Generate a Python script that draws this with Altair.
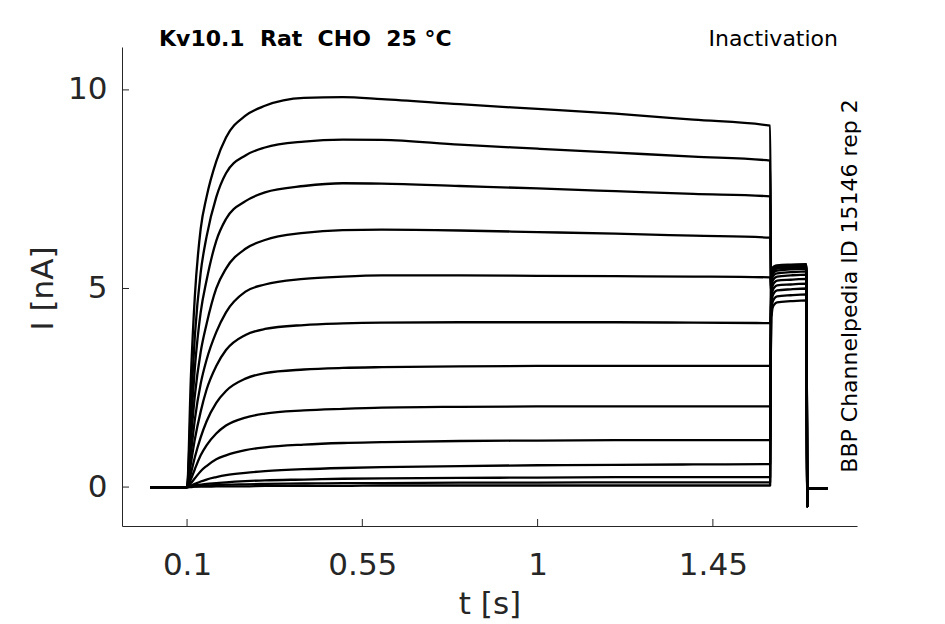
import altair as alt
import pandas as pd

# time grid (s)
T_STEP = [0.005, 0.1, 0.11, 0.12, 0.135, 0.15, 0.175, 0.2, 0.25, 0.3, 0.4, 0.5, 0.6, 0.8, 1.0, 1.2, 1.4, 1.597]
T_TAIL = [1.6, 1.603, 1.608, 1.615, 1.65, 1.69]
T_END = [1.6925, 1.694, 1.744]
I_END = [-0.5, -0.03, -0.03]

# current (nA) during the step, per trace
STEP_01 = [0, 0, 2.8, 4.8, 6.5, 7.3, 8.2, 8.8, 9.35, 9.6, 9.8, 9.82, 9.77, 9.64, 9.52, 9.4, 9.25, 9.1]
STEP_02 = [0, 0, 2.1, 3.8, 5.4, 6.3, 7.3, 7.9, 8.35, 8.55, 8.7, 8.75, 8.74, 8.62, 8.52, 8.42, 8.32, 8.22]
STEP_03 = [0, 0, 1.6, 3.0, 4.4, 5.2, 6.2, 6.75, 7.2, 7.42, 7.58, 7.65, 7.64, 7.58, 7.52, 7.45, 7.38, 7.32]
STEP_04 = [0, 0, 1.2, 2.3, 3.4, 4.1, 5.0, 5.5, 6.0, 6.22, 6.4, 6.47, 6.48, 6.46, 6.42, 6.38, 6.33, 6.28]
STEP_05 = [0, 0, 0.85, 1.7, 2.6, 3.2, 3.9, 4.4, 4.92, 5.1, 5.24, 5.3, 5.33, 5.33, 5.32, 5.31, 5.3, 5.28]
STEP_06 = [0, 0, 0.6, 1.2, 1.9, 2.45, 3.05, 3.45, 3.83, 3.98, 4.08, 4.12, 4.14, 4.15, 4.15, 4.15, 4.14, 4.13]
STEP_07 = [0, 0, 0.35, 0.75, 1.25, 1.65, 2.12, 2.42, 2.73, 2.87, 2.96, 3.0, 3.02, 3.04, 3.05, 3.05, 3.05, 3.05]
STEP_08 = [0, 0, 0.2, 0.45, 0.8, 1.05, 1.35, 1.55, 1.75, 1.85, 1.93, 1.97, 2.0, 2.02, 2.03, 2.03, 2.03, 2.03]
STEP_09 = [0, 0, 0.1, 0.22, 0.4, 0.53, 0.7, 0.8, 0.93, 1.0, 1.07, 1.11, 1.13, 1.16, 1.17, 1.18, 1.18, 1.18]
STEP_10 = [0, 0, 0.04, 0.08, 0.14, 0.19, 0.25, 0.3, 0.36, 0.4, 0.45, 0.48, 0.5, 0.53, 0.55, 0.56, 0.57, 0.58]
STEP_11 = [0, 0, 0.02, 0.04, 0.06, 0.08, 0.1, 0.12, 0.15, 0.17, 0.19, 0.21, 0.22, 0.23, 0.24, 0.25, 0.25, 0.25]
STEP_12 = [0, 0, 0.01, 0.02, 0.03, 0.04, 0.05, 0.06, 0.07, 0.08, 0.09, 0.1, 0.1, 0.11, 0.11, 0.12, 0.12, 0.12]
STEP_13 = [0, 0, 0.0, 0.01, 0.01, 0.01, 0.02, 0.02, 0.02, 0.03, 0.03, 0.03, 0.04, 0.04, 0.04, 0.04, 0.04, 0.04]

# current (nA) during the tail pulse, per trace
TAIL_01 = [4.3, 4.5, 4.6, 4.65, 4.68, 4.7]
TAIL_02 = [4.45, 4.65, 4.75, 4.8, 4.83, 4.85]
TAIL_03 = [4.6, 4.8, 4.9, 4.95, 4.98, 5.0]
TAIL_04 = [4.75, 4.93, 5.03, 5.08, 5.1, 5.12]
TAIL_05 = [4.9, 5.06, 5.15, 5.2, 5.22, 5.24]
TAIL_06 = [5.05, 5.18, 5.26, 5.3, 5.33, 5.35]
TAIL_07 = [5.15, 5.28, 5.35, 5.38, 5.41, 5.43]
TAIL_08 = [5.25, 5.36, 5.42, 5.45, 5.48, 5.5]
TAIL_09 = [5.32, 5.42, 5.47, 5.5, 5.52, 5.54]
TAIL_10 = [5.36, 5.45, 5.5, 5.52, 5.54, 5.56]
TAIL_11 = [5.4, 5.48, 5.53, 5.55, 5.57, 5.58]
TAIL_12 = [5.42, 5.5, 5.55, 5.57, 5.59, 5.6]
TAIL_13 = [5.43, 5.51, 5.56, 5.58, 5.6, 5.61]

STEPS = [STEP_01, STEP_02, STEP_03, STEP_04, STEP_05, STEP_06, STEP_07,
         STEP_08, STEP_09, STEP_10, STEP_11, STEP_12, STEP_13]
TAILS = [TAIL_01, TAIL_02, TAIL_03, TAIL_04, TAIL_05, TAIL_06, TAIL_07,
         TAIL_08, TAIL_09, TAIL_10, TAIL_11, TAIL_12, TAIL_13]

X_TICKS = [0.1, 0.55, 1, 1.45]
Y_TICKS = [0, 5, 10]

NB = "\u00a0"
TITLE_LEFT = f"Kv10.1{NB}{NB}Rat{NB}{NB}CHO{NB}{NB}25{NB}°C"
TITLE_RIGHT = "Inactivation"
SIDE_TEXT = "BBP Channelpedia ID 15146 rep 2"

rows = []
ts = T_STEP + T_TAIL + T_END
for k, (step, tail) in enumerate(zip(STEPS, TAILS)):
    vs = step + tail + I_END
    for j, (t, v) in enumerate(zip(ts, vs)):
        rows.append({"trace": k, "t": t, "I": v, "o": j})
df = pd.DataFrame(rows)

FONT = "DejaVu Sans"
GREY = "#262626"

x_enc = alt.X(
    "t:Q",
    scale=alt.Scale(domain=[-0.067, 1.82], nice=False, zero=False),
    axis=alt.Axis(
        values=X_TICKS, format=".3~g", title="t [s]", grid=False, ticks=False, tickSize=0,
        domainColor=GREY, domainWidth=1, labelFont=FONT, labelFontSize=31,
        labelColor=GREY, labelPadding=48, labelBaseline="alphabetic", labelFlush=False,
        titleFont=FONT, titleFontSize=31, titleFontWeight="normal", titleColor=GREY,
        titleY=87, titleBaseline="alphabetic",
    ),
)
y_enc = alt.Y(
    "I:Q",
    scale=alt.Scale(domain=[-0.98, 11.08], nice=False, zero=False),
    axis=alt.Axis(
        values=Y_TICKS, format=".3~g", title="I [nA]", grid=False, ticks=False, tickSize=0,
        domainColor=GREY, domainWidth=1, labelFont=FONT, labelFontSize=31,
        labelColor=GREY, labelPadding=15, labelFlush=False,
        titleFont=FONT, titleFontSize=31, titleFontWeight="normal", titleColor=GREY,
        titleX=-70, titleY=241, titleAngle=270, titleBaseline="alphabetic",
    ),
)

lines = alt.Chart(df).mark_line(
    color="black", strokeWidth=2.3, strokeJoin="round", interpolate="monotone"
).encode(x=x_enc, y=y_enc, detail="trace:N", order="o:Q")

xt = alt.Chart(pd.DataFrame({"t": X_TICKS})).mark_rule(color=GREY, strokeWidth=1).encode(
    x=x_enc, y=alt.value(479), y2=alt.value(472)
)
yt = alt.Chart(pd.DataFrame({"I": Y_TICKS})).mark_rule(color=GREY, strokeWidth=1).encode(
    y=y_enc, x=alt.value(0), x2=alt.value(7)
)

t_left = alt.Chart(pd.DataFrame({"s": [TITLE_LEFT]})).mark_text(
    font=FONT, fontSize=22, fontWeight="bold", color="black", align="left", baseline="alphabetic"
).encode(text="s:N", x=alt.value(37), y=alt.value(-1))

t_right = alt.Chart(pd.DataFrame({"s": [TITLE_RIGHT]})).mark_text(
    font=FONT, fontSize=22, color="black", align="right", baseline="alphabetic"
).encode(text="s:N", x=alt.value(716), y=alt.value(-1))

t_side = alt.Chart(pd.DataFrame({"s": [SIDE_TEXT]})).mark_text(
    font=FONT, fontSize=22, color="black", align="center", baseline="alphabetic", angle=270
).encode(text="s:N", x=alt.value(735), y=alt.value(239))

chart = alt.layer(lines, xt, yt, t_left, t_right, t_side).properties(
    width=735, height=479,
    padding={"left": 114, "top": 39, "right": 80, "bottom": 98},
    autosize=alt.AutoSizeParams(type="none"),
    background="white",
).configure_view(stroke=None)

chart.save("out.html", embed_options={"renderer": "svg", "actions": False})
